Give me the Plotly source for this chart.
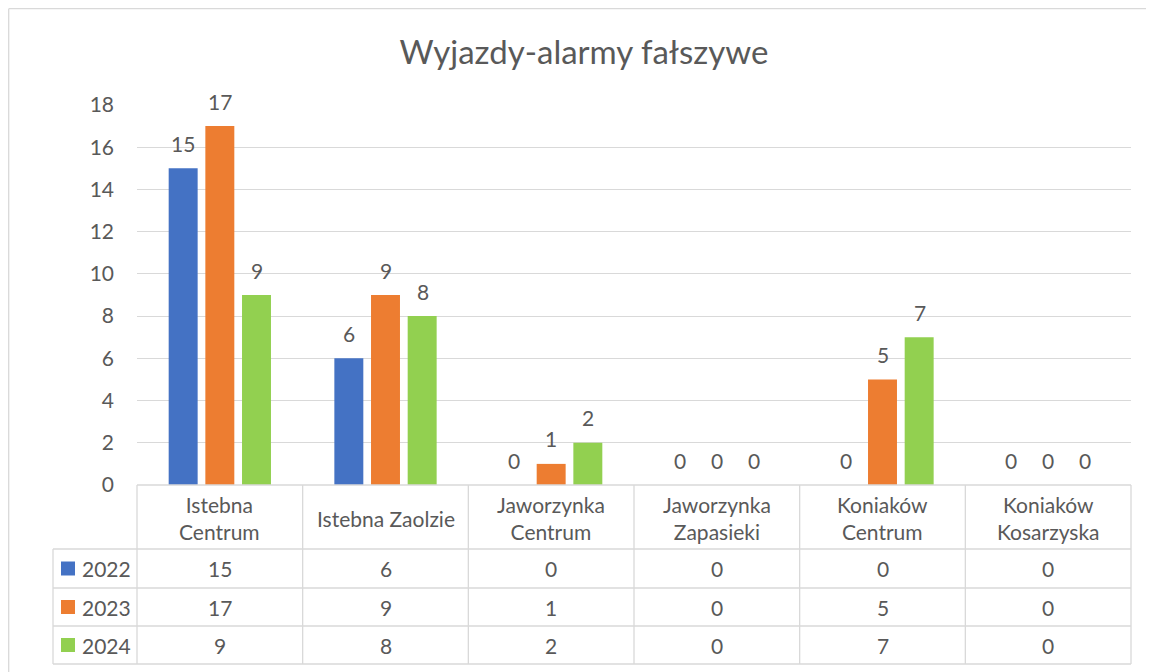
import plotly.graph_objects as go

# ---- data ----
categories = ["Istebna Centrum", "Istebna Zaolzie", "Jaworzynka Centrum",
              "Jaworzynka Zapasieki", "Koniaków Centrum", "Koniaków Kosarzyska"]
header_labels = ["Istebna<br>Centrum", "Istebna Zaolzie", "Jaworzynka<br>Centrum",
                 "Jaworzynka<br>Zapasieki", "Koniaków<br>Centrum", "Koniaków<br>Kosarzyska"]
series_names = ["2022", "2023", "2024"]
v2022 = [15, 6, 0, 0, 0, 0]
v2023 = [17, 9, 1, 0, 5, 0]
v2024 = [9, 8, 2, 0, 7, 0]
y_ticks = [0, 2, 4, 6, 8, 10, 12, 14, 16, 18]
title_text = "Wyjazdy-alarmy fałszywe"

series_values = [v2022, v2023, v2024]
colors = ["#4472C4", "#ED7D31", "#92D050"]
TXT = "#595959"
GRID = "#D9D9D9"
FONT = "Lato"
FS = 21

OFF = 8  # page body margin
W, H = 1154 - OFF, 672 - OFF
L, R, T, B = 137, 1131, 105, 485  # plot area in reference pixels


def px(x):
    return (x - L) / (R - L)


def py(y):
    return (B - y) / (B - T)


fig = go.Figure()
for name, vals, col in zip(series_names, series_values, colors):
    fig.add_trace(go.Bar(x=categories, y=vals, name=name, marker_color=col,
                         marker_line_width=0, showlegend=False))

shapes = []
annotations = []

# data labels above bars
offsets = [-37, 0, 37]
for vals, off in zip(series_values, offsets):
    for c, v in zip(categories, vals):
        annotations.append(dict(x=c, y=v, xref="x", yref="y", text=str(v),
                                showarrow=False, xshift=off, yshift=25,
                                yanchor="middle",
                                font=dict(family=FONT, size=FS, color=TXT)))

# ---- data table below the chart ----
ncat = len(categories)
colw = (R - L) / ncat
row_tops = [B, 549, 588, 626, 664]
leg_left = 53


def line(x0, y0, x1, y1):
    shapes.append(dict(type="line", xref="paper", yref="paper",
                       x0=px(x0), y0=py(y0), x1=px(x1), y1=py(y1),
                       line=dict(color=GRID, width=1.3), layer="above"))


line(L, row_tops[0], R, row_tops[0])
for yy in row_tops[1:]:
    line(leg_left, yy, R, yy)
for i in range(ncat + 1):
    line(L + i * colw, row_tops[0], L + i * colw, row_tops[-1])
line(leg_left, row_tops[1], leg_left, row_tops[-1])

for i, lab in enumerate(header_labels):
    annotations.append(dict(x=px(L + (i + 0.5) * colw), y=py((row_tops[0] + row_tops[1]) / 2 + 1),
                            xref="paper", yref="paper", text=lab, showarrow=False,
                            xanchor="center", yanchor="middle",
                            font=dict(family=FONT, size=FS, color=TXT)))

for r, (name, vals, col) in enumerate(zip(series_names, series_values, colors)):
    yc = (row_tops[r + 1] + row_tops[r + 2]) / 2
    shapes.append(dict(type="rect", xref="paper", yref="paper",
                       x0=px(61), x1=px(75), y0=py(yc - 7), y1=py(yc + 7),
                       fillcolor=col, line=dict(width=0)))
    annotations.append(dict(x=px(80), y=py(yc), xref="paper", yref="paper",
                            text=name, showarrow=False, xanchor="left", yanchor="middle",
                            font=dict(family=FONT, size=FS, color=TXT)))
    for i, v in enumerate(vals):
        annotations.append(dict(x=px(L + (i + 0.5) * colw), y=py(yc),
                                xref="paper", yref="paper", text=str(v), showarrow=False,
                                xanchor="center", yanchor="middle",
                                font=dict(family=FONT, size=FS, color=TXT)))

# outer frame (top and left)
shapes.append(dict(type="line", xref="paper", yref="paper",
                   x0=px(OFF + 0.7), x1=px(1154), y0=py(OFF + 0.7), y1=py(OFF + 0.7),
                   line=dict(color=GRID, width=1.3)))
shapes.append(dict(type="line", xref="paper", yref="paper",
                   x0=px(OFF + 0.7), x1=px(OFF + 0.7), y0=py(OFF + 0.7), y1=py(672),
                   line=dict(color=GRID, width=1.3)))

fig.update_layout(
    width=W, height=H,
    margin=dict(l=L - OFF, r=W - (R - OFF), t=T - OFF, b=H - (B - OFF), pad=0),
    paper_bgcolor="white", plot_bgcolor="white",
    barmode="group", bargap=0.336, bargroupgap=0.21,
    title=dict(text=title_text, x=px(584), xref="paper", xanchor="center",
               y=1 - (52 - OFF) / H, yanchor="middle",
               font=dict(family=FONT, size=33, color=TXT)),
    font=dict(family=FONT, color=TXT),
    xaxis=dict(showticklabels=False, showgrid=False, showline=False, zeroline=False,
               ticks=""),
    yaxis=dict(range=[0, 18], tickvals=y_ticks, showgrid=True, gridcolor=GRID,
               gridwidth=1.3, zeroline=False, showline=False,
               tickfont=dict(family=FONT, size=FS, color=TXT),
               ticklabelstandoff=22),
    shapes=shapes,
    annotations=annotations,
)

fig.write_html("out.html")
